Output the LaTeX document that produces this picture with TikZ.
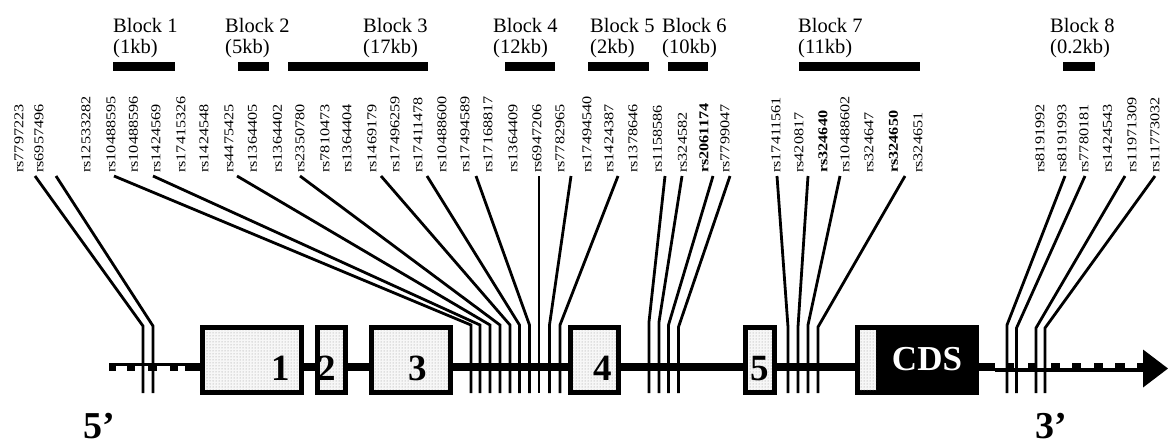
\documentclass[tikz,border=0pt]{standalone}
\usepackage{fontspec}
\setmainfont{Liberation Serif}
\usetikzlibrary{patterns}
\begin{document}
\begin{tikzpicture}[x=1pt,y=-1pt,
 rslab/.style={rotate=90,anchor=west,inner sep=0pt,font=\fontsize{13.5}{14}\selectfont},
 blk/.style={anchor=base west,inner sep=0pt,font=\fontsize{20.5}{22}\selectfont},
 exon/.style={draw,line width=5pt,inner sep=0pt,minimum height=65pt,preaction={fill=gray!6},preaction={pattern=dots,pattern color=gray!85}},
 dotted strip/.style={inner sep=0pt,draw=none,preaction={fill=gray!6},preaction={pattern=dots,pattern color=gray!85}},
 num/.style={anchor=base,inner sep=0pt,font=\fontsize{37}{37}\selectfont\bfseries},
 snp/.style={line width=2.8pt},
 endlab/.style={anchor=base west,inner sep=0pt,font=\fontsize{38}{38}\selectfont\bfseries}]
\useasboundingbox (0,0) rectangle (1168,447);
% block labels
\foreach \n/\x/\kb in {1/113/1kb,2/225/5kb,3/363/17kb,4/493/12kb,5/590/2kb,6/662/10kb,7/798/11kb,8/1050/0.2kb}{
  \node[blk] (blk\n) at (\x,32) {Block \n};
  \node[blk] (kb\n) at (\x,53) {(\kb)};
}
% block bars
\foreach \a/\b in {113/175,238/269,288/428,505/555,588/649,668/708,799/920,1063/1095}{
  \fill (\a,62) rectangle (\b,71);
}
% rs labels
\foreach \x/\t in {19/rs7797223,39/rs6957496,86/rs12533282,111/rs10488595,133.5/rs10488596,156/rs1424569,181/rs17415326,204/rs1424548,229/rs4475425,252.5/rs1364405,277.5/rs1364402,300/rs2350780,325/rs7810473,347/rs1364404,372/rs1469179,395/rs17496259,418/rs17411478,442/rs10488600,465/rs17494589,488/rs17168817,513/rs1364409,537/rs6947206,560/rs7782965,587/rs17494540,609/rs1424387,633/rs1378646,657.5/rs1158586,682.5/rs324582,704/\textbf{rs2061174},725/rs7799047,776/rs17411561,799/rs420817,823/\textbf{rs324640},845/rs10488602,869/rs324647,893.5/\textbf{rs324650},918/rs324651,1040/rs8191992,1062/rs8191993,1084/rs7780181,1107.5/rs1424543,1132/rs11971309,1155/rs11773032}{
  \node[rslab] (lab\x) at (\x,173) {\scalebox{1.2}[1]{\t}};
}
% axis
\fill (200,363) rectangle (978,371);
\fill (109,363) rectangle (200,366);
\foreach \a/\b in {109/116,127/135,148/157,170/178,185/200}{\fill (\a,363) rectangle (\b,371);}
\fill (978,363) rectangle (995,371);
\fill (995,368) rectangle (1145,372);
\foreach \a/\b in {1006/1014,1028/1036,1051/1060,1072/1081,1094/1103,1115/1125,1137/1145}{\fill (\a,363) rectangle (\b,372);}
\coordinate (arrA) at (1143,349.5);
\coordinate (arrT) at (1168,368.5);
\coordinate (arrB) at (1143,387.5);
\fill (arrA) -- (arrT) -- (arrB) -- cycle;
% exons
\node[exon,minimum width=99pt] (ex1) at (252,360) {};
\node[exon,minimum width=28pt] (ex2) at (331.5,360) {};
\node[exon,minimum width=79pt] (ex3) at (411,360) {};
\node[exon,minimum width=48pt] (ex4) at (594.5,360) {};
\node[exon,minimum width=29pt] (ex5) at (760,360) {};
\node[draw,fill=black,line width=5pt,inner sep=0pt,minimum width=119pt,minimum height=65pt] (cds) at (917,360) {};
\node[dotted strip,minimum width=16pt,minimum height=60pt] (strip) at (868,360) {};
\node[anchor=base,inner sep=0pt,text=white,font=\fontsize{35}{35}\selectfont\bfseries] (cdstext) at (927,370) {CDS};
\node[num] (n1) at (281,380) {1};
\node[num] (n2) at (327,380) {2};
\node[num] (n3) at (418,380) {3};
\node[num] (n4) at (603,380) {4};
\node[num] (n5) at (760,380) {5};
% SNP connectors
\foreach \i/\tx/\bx/\by in {1/35/143/326,2/56/153/326,3/114/471/325,4/153/480/325,5/237/490/325,6/300/500/325,7/381/510/325,8/427/519.5/325,9/476/529.5/325,10/539/539/325,11/571/549.5/325,12/618/560/325,13/665/649/322,14/682/659/322,15/713/668.5/325,16/730/678.5/327,17/777/788/327,18/808/798/327,19/840/808/325,20/905/818/327,21/1065/1007/325,22/1085/1016.5/328,23/1125/1036/328,24/1155/1045/328}{
  \coordinate (t\i) at (\tx,176);
  \coordinate (k\i) at (\bx,\by);
  \coordinate (v\i) at (\bx,393);
  \draw[snp] (t\i) -- (k\i) -- (v\i);
}
% ends
\node[endlab] (five) at (83,438) {5’};
\node[endlab] (three) at (1035,438) {3’};
\end{tikzpicture}
\end{document}
